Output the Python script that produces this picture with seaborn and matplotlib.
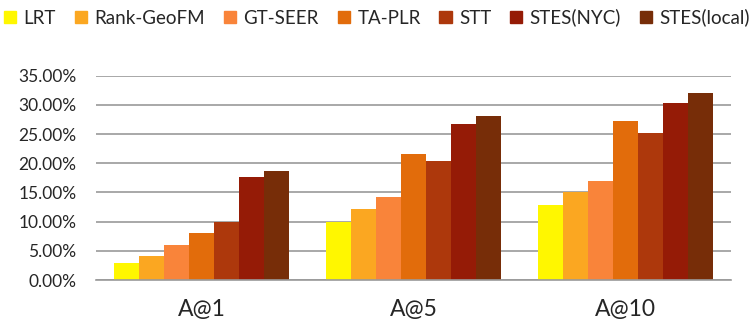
import matplotlib
matplotlib.use("Agg")
import matplotlib.pyplot as plt
from matplotlib.ticker import FuncFormatter
from matplotlib.patches import Patch
import pandas as pd
import seaborn as sns

categories = ["A@1", "A@5", "A@10"]
methods = ["LRT", "Rank-GeoFM", "GT-SEER", "TA-PLR", "STT", "STES(NYC)", "STES(local)"]
lrt = [2.9, 10.0, 12.8]
rank_geofm = [4.1, 12.2, 15.1]
gt_seer = [6.0, 14.2, 16.9]
ta_plr = [8.0, 21.5, 27.2]
stt = [10.0, 20.3, 25.1]
stes_nyc = [17.6, 26.7, 30.3]
stes_local = [18.7, 28.1, 32.0]
colors = ["#FFF700", "#FBA721", "#F9843A", "#E26C0B", "#AD380C", "#951B06", "#772D08"]

series = [lrt, rank_geofm, gt_seer, ta_plr, stt, stes_nyc, stes_local]
rows = []
for m, vals in zip(methods, series):
    for c, v in zip(categories, vals):
        rows.append({"cat": c, "method": m, "value": v})
df = pd.DataFrame(rows)

sns.set_style("white")
plt.rcParams["font.family"] = ["Lato", "DejaVu Sans"]

fig = plt.figure(figsize=(7.54, 3.26), dpi=100)
ax = fig.add_axes([0.127, 0.141, 0.843, 0.627])

sns.barplot(data=df, x="cat", y="value", hue="method", hue_order=methods,
            palette=colors, width=0.825, gap=0, saturation=1, legend=False,
            linewidth=0, ax=ax)

ax.set_ylim(0, 35)
ax.set_yticks(range(0, 36, 5))
ax.yaxis.set_major_formatter(FuncFormatter(lambda v, p: "{:.2f}%".format(v)))
ax.set_xlabel("")
ax.set_ylabel("")
ax.yaxis.grid(True, color="#9a9a9a", linewidth=1.2)
ax.set_axisbelow(True)
for s in ["top", "right", "left"]:
    ax.spines[s].set_visible(False)
ax.spines["bottom"].set_color("#9a9a9a")
ax.spines["bottom"].set_linewidth(1.2)
ax.tick_params(axis="y", length=0, labelsize=12.5, pad=14)
ax.tick_params(axis="x", length=0, labelsize=16.5, pad=14)

handles = [Patch(color=c, label=m) for m, c in zip(methods, colors)]
fig.legend(handles=handles, loc="upper center", bbox_to_anchor=(0.5, 1.025),
           ncol=7, frameon=False, fontsize=13.5, handlelength=0.65,
           handleheight=0.65, handletextpad=0.4, columnspacing=1.0)

fig.savefig("out.png", dpi=100)
